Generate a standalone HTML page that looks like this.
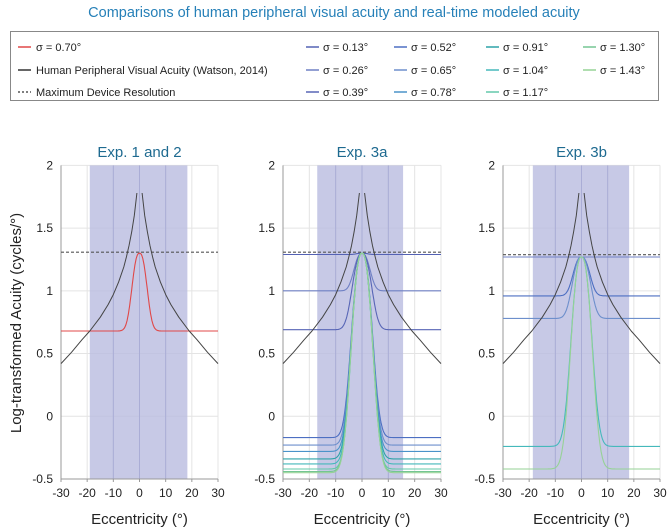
<!DOCTYPE html>
<html><head><meta charset="utf-8"><style>
body{margin:0;background:#fff;width:669px;height:528px;overflow:hidden;font-family:"Liberation Sans",sans-serif}
svg{display:block}
</style></head><body>
<svg id="chart" width="669" height="528" xmlns="http://www.w3.org/2000/svg" font-family="Liberation Sans, sans-serif">
<text x="334" y="17" text-anchor="middle" font-size="14.5" fill="#2680b8">Comparisons of human peripheral visual acuity and real-time modeled acuity</text>
<g>
<rect x="10.5" y="31.5" width="648" height="69" fill="#fff" stroke="#888" stroke-width="1"/>
<g id="legend-entries"></g>
</g>
<text transform="translate(21,323) rotate(-90)" text-anchor="middle" font-size="15" fill="#222">Log-transformed Acuity (cycles/°)</text>
<g id="panels"></g>
</svg>
<script>
// ---- data ----
const xTicks = [-30,-20,-10,0,10,20,30];
const yTicks = [2,1.5,1,0.5,0,-0.5];
const yTickLabels = ["2","1.5","1","0.5","0","-0.5"];
const panelTitles = ["Exp. 1 and 2","Exp. 3a","Exp. 3b"];
const shadeStart = [-19, -17, -18.6];
const shadeEnd = [18.3, 15.6, 18.2];
const deviceRes = [1.30, 1.30, 1.28];
const humanEcc = [1,2,3,4,5,6,8,10,12,15,19,22,26,30];
const humanAcuity = [1.78,1.60,1.47,1.36,1.27,1.19,1.07,0.97,0.89,0.79,0.68,0.61,0.51,0.42];
const sigmaLabels = ["0.13","0.26","0.39","0.52","0.65","0.78","0.91","1.04","1.17","1.30","1.43"];
const sigmaColors = ["#5462b4","#6f80c4","#5866b6","#4d6fc2","#6d8fcc","#4a93c9","#2ea3a8","#45b9bb","#62c9aa","#74c592","#96d296"];
const redBaseline = 0.68, redPeak = 1.30, redWidth = 3.6;
const exp3aBaselines = [1.29,1.00,0.69,-0.17,-0.23,-0.28,-0.34,-0.38,-0.42,-0.44,-0.45];
const exp3aWidths = [2.6,3.8,4.6,5.0,5.0,5.0,5.1,5.1,5.1,5.2,5.2];
const exp3aPeak = 1.30;
const exp3bBaselines = [1.27,0.96,0.78,-0.24,-0.42];
const exp3bWidths = [2.6,4.0,4.4,5.0,5.2];
const exp3bColorIdx = [1,3,4,7,10];
const exp3bPeak = 1.27;

// ---- layout ----
const NS="http://www.w3.org/2000/svg";
const panelX0=[61,283,503], panelW=[157,158,157];
const yTop=165.4, yBot=479;
function mk(tag,attrs,parent){const e=document.createElementNS(NS,tag);for(const k in attrs)e.setAttribute(k,attrs[k]);parent.appendChild(e);return e;}
const root=document.getElementById('panels');
const leg=document.getElementById('legend-entries');

// legend
const l1=mk('line',{x1:18,y1:47,x2:31,y2:47,stroke:'#e04848','stroke-width':1.5},leg);


const t1=mk('text',{x:36,y:51,'font-size':11,fill:'#222'},leg);t1.textContent='σ = 0.70°';


const l2=mk('line',{x1:18,y1:70,x2:31,y2:70,stroke:'#333','stroke-width':1.5},leg);


const t2=mk('text',{x:36,y:74,'font-size':11,fill:'#222'},leg);t2.textContent='Human Peripheral Visual Acuity (Watson, 2014)';


const l3=mk('line',{x1:18,y1:92,x2:31,y2:92,stroke:'#333','stroke-width':1.2,'stroke-dasharray':'2,2'},leg);


const t3=mk('text',{x:36,y:96,'font-size':11,fill:'#222'},leg);t3.textContent='Maximum Device Resolution';


const colX=[306,394,486,583], rowY=[47,70,92];
sigmaLabels.forEach((s,i)=>{
  const c=Math.floor(i/3), r=i%3;
  const ln=mk('line',{x1:colX[c],y1:rowY[r],x2:colX[c]+13,y2:rowY[r],stroke:sigmaColors[i],'stroke-width':1.5},leg);
  
  
  const tx=mk('text',{x:colX[c]+17,y:rowY[r]+4,'font-size':11,fill:'#222'},leg);
  tx.textContent='σ = '+s+'°';
  
  
});

function buildPanel(p){
  const g=mk('g',{},root);
  
  
  const x0=panelX0[p], w=panelW[p];
  const X=e=>x0+(e+30)/60*w;
  const Y=v=>yBot-(v+0.5)/2.5*(yBot-yTop);
  xTicks.forEach(t=>{const l=mk('line',{x1:X(t),x2:X(t),y1:yTop,y2:yBot,stroke:'#e4e4e4','stroke-width':1},g);
    });
  yTicks.forEach(t=>{const l=mk('line',{x1:x0,x2:x0+w,y1:Y(t),y2:Y(t),stroke:'#e4e4e4','stroke-width':1},g);
    });
  const sh=mk('rect',{x:X(shadeStart[p]),y:yTop,width:X(shadeEnd[p])-X(shadeStart[p]),height:yBot-yTop,fill:'#b9bce0','fill-opacity':0.8},g);
  
  
  xTicks.forEach(t=>{if(t>shadeStart[p]&&t<shadeEnd[p]){const l=mk('line',{x1:X(t),x2:X(t),y1:yTop,y2:yBot,stroke:'#aaadd6','stroke-width':1},g);
    }});
  const ax=mk('path',{d:`M${x0},${yTop}V${yBot}H${x0+w}`,fill:'none',stroke:'#999','stroke-width':1},g);
  
  
  xTicks.forEach(t=>{const l=mk('line',{x1:X(t),x2:X(t),y1:yBot,y2:yBot+3,stroke:'#999'},g);
    
    const tx=mk('text',{x:X(t),y:yBot+18,'text-anchor':'middle','font-size':12,fill:'#222'},g);tx.textContent=t;
    });
  yTicks.forEach((t,i)=>{const tx=mk('text',{x:x0-8,y:Y(t)+4,'text-anchor':'end','font-size':12,fill:'#222'},g);tx.textContent=yTickLabels[i];
    });
  const xt=mk('text',{x:x0+w/2,y:524,'text-anchor':'middle','font-size':15,fill:'#222'},g);xt.textContent='Eccentricity (°)';
  
  const pt=mk('text',{x:x0+w/2,y:157,'text-anchor':'middle','font-size':15,fill:'#1e6a90'},g);pt.textContent=panelTitles[p];
  
  function model(b,peak,wd,color,name){
    let d='';
    for(let e=-30;e<=30.001;e+=0.25){const v=b+(peak-b)*Math.exp(-Math.pow(Math.abs(e)/wd,2.5));d+=(d?'L':'M')+X(e).toFixed(1)+','+Y(v).toFixed(1);}
    const pa=mk('path',{d,fill:'none',stroke:color,'stroke-width':1.1},g);
    
    
  }
  if(p===0) model(redBaseline,redPeak,redWidth,'#e04848','red-sigma-0.70-curve');
  if(p===1) exp3aBaselines.forEach((b,i)=>model(b,exp3aPeak,exp3aWidths[i],sigmaColors[i],'model-curve-sigma-'+sigmaLabels[i]));
  if(p===2) exp3bBaselines.forEach((b,i)=>model(b,exp3bPeak,exp3bWidths[i],sigmaColors[exp3bColorIdx[i]],'model-curve-'+i));
  const dl=mk('line',{x1:x0,x2:x0+w,y1:Y(deviceRes[p])-1,y2:Y(deviceRes[p])-1,stroke:'#555','stroke-width':1.1,'stroke-dasharray':'3,2'},g);
  
  
  [-1,1].forEach(s=>{
    const d=humanEcc.map((e,i)=>(i?'L':'M')+X(s*e).toFixed(1)+','+Y(humanAcuity[i]).toFixed(1)).join('');
    const pa=mk('path',{d,fill:'none',stroke:'#444','stroke-width':1,'stroke-linejoin':'round'},g);
    
    
  });
}
[0,1,2].forEach(buildPanel);
</script>
</body></html>
